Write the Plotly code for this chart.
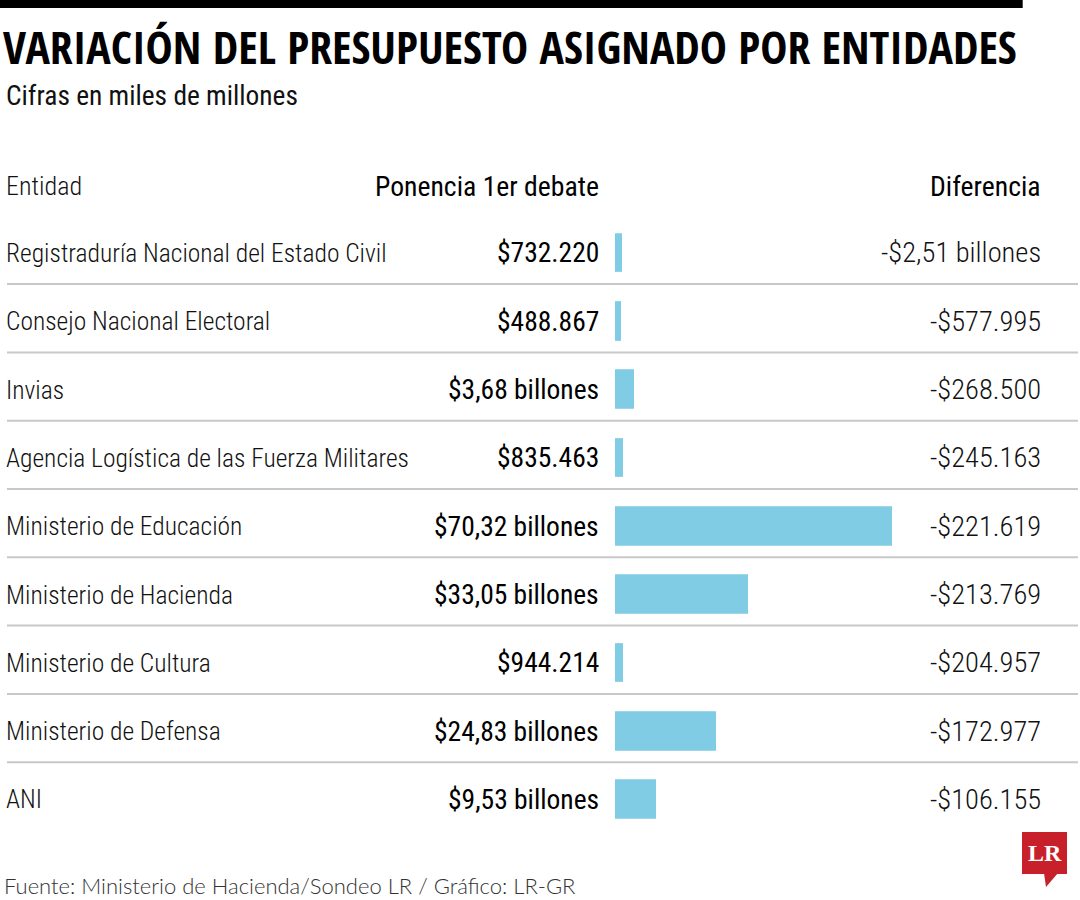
import plotly.graph_objects as go

entidades = [
    "Registraduría Nacional del Estado Civil",
    "Consejo Nacional Electoral",
    "Invias",
    "Agencia Logística de las Fuerza Militares",
    "Ministerio de Educación",
    "Ministerio de Hacienda",
    "Ministerio de Cultura",
    "Ministerio de Defensa",
    "ANI",
]
ponencia_billones = [0.732220, 0.488867, 3.68, 0.835463, 70.32, 33.05, 0.944214, 24.83, 9.53]
ponencia_labels = ["$732.220", "$488.867", "$3,68 billones", "$835.463", "$70,32 billones",
                   "$33,05 billones", "$944.214", "$24,83 billones", "$9,53 billones"]
diferencia_labels = ["-$2,51 billones", "-$577.995", "-$268.500", "-$245.163", "-$221.619",
                     "-$213.769", "-$204.957", "-$172.977", "-$106.155"]

title = "VARIACIÓN DEL PRESUPUESTO ASIGNADO POR ENTIDADES"
subtitle = "Cifras en miles de millones"
headers = ["Entidad", "Ponencia 1er debate", "Diferencia"]
source = "Fuente: Ministerio de Hacienda/Sondeo LR / Gráfico: LR-GR"

W, H = 1080, 900
FONT = "Roboto Condensed, Liberation Sans Narrow, sans-serif"
TITLE_FONT = "Open Sans Condensed, Roboto Condensed, sans-serif"
BAR_COLOR = "#80CCE4"
TEXT = "#111111"


def px_x(p):
    return p / W


def px_y(p):
    return 1 - p / H


n = len(entidades)
row_top, row_bot = 218.85, 833.55
bar_left = 615.0
extra = 2.35          # half stroke width, px
scale = 3.882         # px per billion

fig = go.Figure()
fig.add_trace(go.Bar(
    x=ponencia_billones,
    y=list(range(n)),
    orientation="h",
    width=0.507,
    marker=dict(color=BAR_COLOR, line=dict(color=BAR_COLOR, width=2 * extra)),
    hoverinfo="skip",
))

annotations = []
for i in range(n):
    annotations.append(dict(x=px_x(4), y=i, xref="paper", yref="y", text=entidades[i],
                            xanchor="left", yanchor="middle", showarrow=False,
                            font=dict(family=FONT, size=25.5, color=TEXT, weight=300)))
    annotations.append(dict(x=px_x(601), y=i, xref="paper", yref="y", text=ponencia_labels[i],
                            xanchor="right", yanchor="middle", showarrow=False,
                            font=dict(family=FONT, size=27.5, color="#000000", weight=400)))
    annotations.append(dict(x=px_x(1043), y=i, xref="paper", yref="y", text=diferencia_labels[i],
                            xanchor="right", yanchor="middle", showarrow=False,
                            font=dict(family=FONT, size=28.5, color=TEXT, weight=300)))

annotations += [
    dict(x=px_x(4), y=px_y(186), xref="paper", yref="paper", text=headers[0], xanchor="left",
         yanchor="middle", showarrow=False,
         font=dict(family=FONT, size=26, color=TEXT, weight=300)),
    dict(x=px_x(601), y=px_y(186), xref="paper", yref="paper", text=headers[1], xanchor="right",
         yanchor="middle", showarrow=False,
         font=dict(family=FONT, size=27.7, color="#000000", weight=400)),
    dict(x=px_x(1043), y=px_y(186), xref="paper", yref="paper", text=headers[2], xanchor="right",
         yanchor="middle", showarrow=False,
         font=dict(family=FONT, size=27.7, color="#000000", weight=400)),
    dict(x=px_x(1), y=px_y(46), xref="paper", yref="paper", text=title,
         xanchor="left", yanchor="middle", showarrow=False,
         font=dict(family=TITLE_FONT, size=45.7, color="#000000", weight=700)),
    dict(x=px_x(4), y=px_y(96), xref="paper", yref="paper", text=subtitle, xanchor="left",
         yanchor="middle", showarrow=False,
         font=dict(family=FONT, size=27.4, color=TEXT, weight=400)),
    dict(x=px_x(2), y=px_y(885), xref="paper", yref="paper", text=source, xanchor="left",
         yanchor="middle", showarrow=False,
         font=dict(family="Lato, sans-serif", size=22, color="#333333", weight=300)),
    dict(x=px_x(1045), y=px_y(853), xref="paper", yref="paper", text="<b>LR</b>", xanchor="center",
         yanchor="middle", showarrow=False,
         font=dict(family="Liberation Serif, DejaVu Serif, serif", size=24, color="#ffffff")),
]

shapes = [
    dict(type="rect", xref="paper", yref="paper", x0=px_x(0), x1=px_x(1022.7), y0=px_y(0), y1=px_y(8),
         fillcolor="#000000", line=dict(width=0), layer="above"),
    dict(type="rect", xref="paper", yref="paper", x0=px_x(1022), x1=px_x(1067), y0=px_y(832),
         y1=px_y(874), fillcolor="#C8202A", line=dict(width=0), layer="above"),
    dict(type="path", xref="paper", yref="paper",
         path=f"M {px_x(1044)} {px_y(873)} L {px_x(1046)} {px_y(887)} L {px_x(1058)} {px_y(873)} Z",
         fillcolor="#C8202A", line=dict(width=0), layer="above"),
]
for i in range(n - 1):
    shapes.append(dict(type="line", xref="paper", yref="y", x0=px_x(7), x1=px_x(1078),
                       y0=i + 0.455, y1=i + 0.455, line=dict(color="#C8C8C8", width=2), layer="below"))

x_lo = -extra / scale
x_hi = (W - bar_left - extra) / scale
fig.update_layout(
    width=W, height=H,
    margin=dict(l=0, r=0, t=0, b=0),
    paper_bgcolor="#ffffff", plot_bgcolor="rgba(0,0,0,0)",
    showlegend=False,
    xaxis=dict(domain=[px_x(bar_left), 1], range=[x_lo, x_hi], visible=False, fixedrange=True),
    yaxis=dict(domain=[px_y(row_bot), px_y(row_top)], range=[n - 0.5, -0.5], visible=False,
               fixedrange=True),
    annotations=annotations,
    shapes=shapes,
    bargap=0,
)

fig.write_html("out.html", config={"displayModeBar": False},
               post_script="document.body.style.margin='0';document.body.style.overflow='hidden';")
